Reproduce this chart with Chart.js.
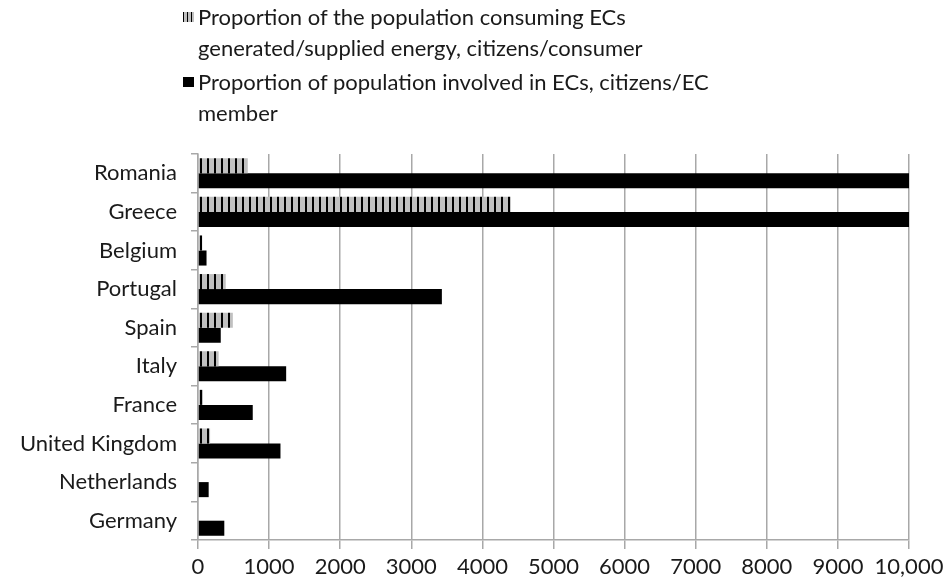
<!DOCTYPE html>
<html>
<head>
<meta charset="utf-8">
<script src="https://cdn.jsdelivr.net/npm/chart.js@4"></script>
<style>
  html, body { margin: 0; padding: 0; background: #fff; }
  #wrap { position: relative; width: 950px; height: 585px; }
  #chart { position: absolute; left: 0; top: 0; }
  .legend { position: absolute; left: 183px; top: 1px; font-family: Lato, "Liberation Sans", sans-serif; font-size: 22px; color: #1a1a1a; line-height: 31px; }
  .item { position: relative; padding-left: 15px; margin-bottom: 3px; }
  .swatch { position: absolute; left: 0; top: 11px; width: 11px; height: 10px; }
  .sw-hatch { background: repeating-linear-gradient(90deg, #000 0 1.5px, #c0c0c0 1.5px 3.8px); }
  .sw-solid { background: #000; }
</style>
</head>
<body>
<div id="wrap">
  <canvas id="chart" width="950" height="585"></canvas>
  <div class="legend">
    <div class="item"><span class="swatch sw-hatch"></span>Proportion of the population consuming ECs<br>generated/supplied energy, citizens/consumer</div>
    <div class="item"><span class="swatch sw-solid"></span>Proportion of population involved in ECs, citizens/EC<br>member</div>
  </div>
</div>
<script>
// Countries, top to bottom
const countries = ['Romania', 'Greece', 'Belgium', 'Portugal', 'Spain', 'Italy', 'France', 'United Kingdom', 'Netherlands', 'Germany'];
// citizens per consumer of EC-generated/supplied energy
const citizensPerConsumer = [700, 4400, 60, 390, 490, 290, 70, 170, 15, 10];
// citizens per EC member (axis is capped at 10,000)
const citizensPerMember = [10000, 10000, 120, 3430, 320, 1240, 770, 1160, 150, 370];
// x-axis range
const axisMax = 10000;
const axisStep = 1000;

// vertical-stripe fill for the consumer series
function stripePattern() {
  const c = document.createElement('canvas');
  c.width = 7; c.height = 4;
  const g = c.getContext('2d');
  g.fillStyle = '#c0c0c0';
  g.fillRect(0, 0, 7, 4);
  g.fillStyle = '#000';
  g.fillRect(4, 0, 2, 4);
  return g.createPattern(c, 'repeat');
}

const tickFont = { family: 'Lato, "Liberation Sans", sans-serif', size: 22 };
const gridGray = '#a8a8a8';

new Chart(document.getElementById('chart'), {
  type: 'bar',
  data: {
    labels: countries,
    datasets: [
      { label: 'Proportion of the population consuming ECs generated/supplied energy, citizens/consumer',
        data: citizensPerConsumer, backgroundColor: stripePattern(), borderWidth: 0 },
      { label: 'Proportion of population involved in ECs, citizens/EC member',
        data: citizensPerMember, backgroundColor: '#000', borderWidth: 0 }
    ]
  },
  options: {
    indexAxis: 'y',
    responsive: false,
    devicePixelRatio: 1,
    animation: false,
    categoryPercentage: 0.78,
    barPercentage: 1.0,
    layout: { padding: { top: 154, right: 41, left: 0, bottom: 0 } },
    plugins: { legend: { display: false }, tooltip: { enabled: false } },
    scales: {
      x: {
        min: 0, max: axisMax,
        ticks: {
          stepSize: axisStep,
          font: tickFont, color: '#1a1a1a', padding: 5,
          maxRotation: 0, autoSkip: false,
          callback: v => v === 10000 ? '10,000' : String(v)
        },
        grid: { color: gridGray, lineWidth: 1.5, tickLength: 9 },
        border: { color: gridGray, width: 1.5 },
        afterFit: s => { s.height = 45; s.paddingLeft = 0; s.paddingRight = 0; }
      },
      y: {
        ticks: { font: tickFont, color: '#1a1a1a', padding: 14 },
        grid: { display: true, drawOnChartArea: false, color: gridGray, lineWidth: 1.5, tickLength: 7 },
        border: { color: gridGray, width: 1.5 },
        afterFit: s => { s.width = 198; s.paddingTop = 0; s.paddingBottom = 0; }
      }
    }
  }
});
</script>
</body>
</html>
